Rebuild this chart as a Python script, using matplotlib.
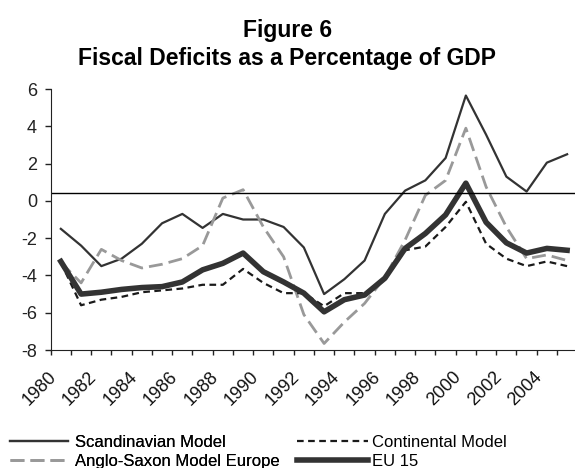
import matplotlib
matplotlib.use("Agg")
import matplotlib.pyplot as plt
import numpy as np

# Data (percent of GDP)
years = list(range(1980, 2006))
scandinavian = [-1.5, -2.4, -3.5, -3.1, -2.3, -1.2, -0.7, -1.45, -0.7, -1.0,
                -1.0, -1.4, -2.5, -5.0, -4.2, -3.2, -0.7, 0.55, 1.1, 2.3,
                5.65, 3.55, 1.3, 0.5, 2.05, 2.5]
anglo_saxon = [-3.3, -4.4, -2.6, -3.2, -3.6, -3.4, -3.1, -2.4, 0.15, 0.6,
               -1.4, -3.0, -6.1, -7.65, -6.5, -5.5, -4.1, -2.1, 0.3, 1.1,
               3.9, 0.75, -1.4, -3.1, -2.9, -3.2]
continental = [-3.3, -5.6, -5.3, -5.15, -4.9, -4.8, -4.7, -4.5, -4.5, -3.65,
               -4.4, -4.95, -4.95, -5.65, -4.95, -4.95, -4.25, -2.65, -2.45, -1.4,
               -0.05, -2.3, -3.1, -3.5, -3.25, -3.5]
eu15 = [-3.25, -5.0, -4.9, -4.75, -4.65, -4.6, -4.35, -3.7, -3.35, -2.8,
        -3.8, -4.35, -4.95, -5.95, -5.3, -5.05, -4.15, -2.55, -1.75, -0.75,
        0.95, -1.15, -2.25, -2.8, -2.55, -2.65]
ref_level = 0.4
y_ticks = [6, 4, 2, 0, -2, -4, -6, -8]

plt.rcParams['font.family'] = ['Liberation Sans', 'DejaVu Sans']

fig = plt.figure(figsize=(5.75, 4.68), dpi=100)
ax = fig.add_axes([0.0882, 0.2521, 0.9157, 0.5577])

x = np.arange(len(years))
l1, = ax.plot(x, scandinavian, color='#333333', lw=1.6, label='Scandinavian Model')
l2, = ax.plot(x, anglo_saxon, color='#999999', lw=2.0, dashes=(5, 2.2),
              label='Anglo-Saxon Model Europe')
l3, = ax.plot(x, continental, color='#1a1a1a', lw=1.6, dashes=(3, 2),
              label='Continental Model')
l4, = ax.plot(x, eu15, color='#333333', lw=4.0, label='EU 15')
ax.axhline(ref_level, color='black', lw=1.0)

ax.set_xlim(-0.5, len(years) - 0.5)
ax.set_ylim(-8, 6)
ax.set_yticks(y_ticks)
ax.set_yticklabels([str(v) for v in y_ticks], fontsize=13)

# category axis: ticks between categories, labels every 2 years
ax.set_xticks(np.arange(len(years) + 1) - 0.5)
ax.set_xticklabels([])
for i, yr in enumerate(years):
    if yr % 2 == 0 and yr <= 2004:
        ax.text(i - 0.65, -9.0, str(yr), rotation=45, ha='right', va='top',
                rotation_mode='anchor', fontsize=13, color='#111111')

ax.tick_params(axis='y', direction='out', length=4.3, width=1,
               colors='#222222', pad=5.5)
ax.tick_params(axis='x', direction='out', length=3.6, width=1,
               colors='#222222')
for s in ['top', 'right']:
    ax.spines[s].set_visible(False)
for s in ['left', 'bottom']:
    ax.spines[s].set_color('#222222')

fig.text(0.5, 0.935, 'Figure 6', ha='center', va='center', fontsize=16.5,
         fontweight='bold')
fig.text(0.5, 0.876, 'Fiscal Deficits as a Percentage of GDP', ha='center',
         va='center', fontsize=16.5, fontweight='bold')

# two legend columns with different handle lengths, like the original
leg1 = fig.legend(handles=[l1, l2], frameon=False, fontsize=12,
                  loc='upper left', bbox_to_anchor=(10 / 575, 0.07),
                  handlelength=3.5, handletextpad=0.4, labelspacing=0.2,
                  borderpad=0, borderaxespad=0)
leg2 = fig.legend(handles=[l3, l4], frameon=False, fontsize=12,
                  loc='upper left', bbox_to_anchor=(297 / 575, 0.07),
                  handlelength=4.26, handletextpad=0.25, labelspacing=0.2,
                  borderpad=0, borderaxespad=0)
fig.add_artist(leg1)

fig.savefig('out.png', dpi=100)
